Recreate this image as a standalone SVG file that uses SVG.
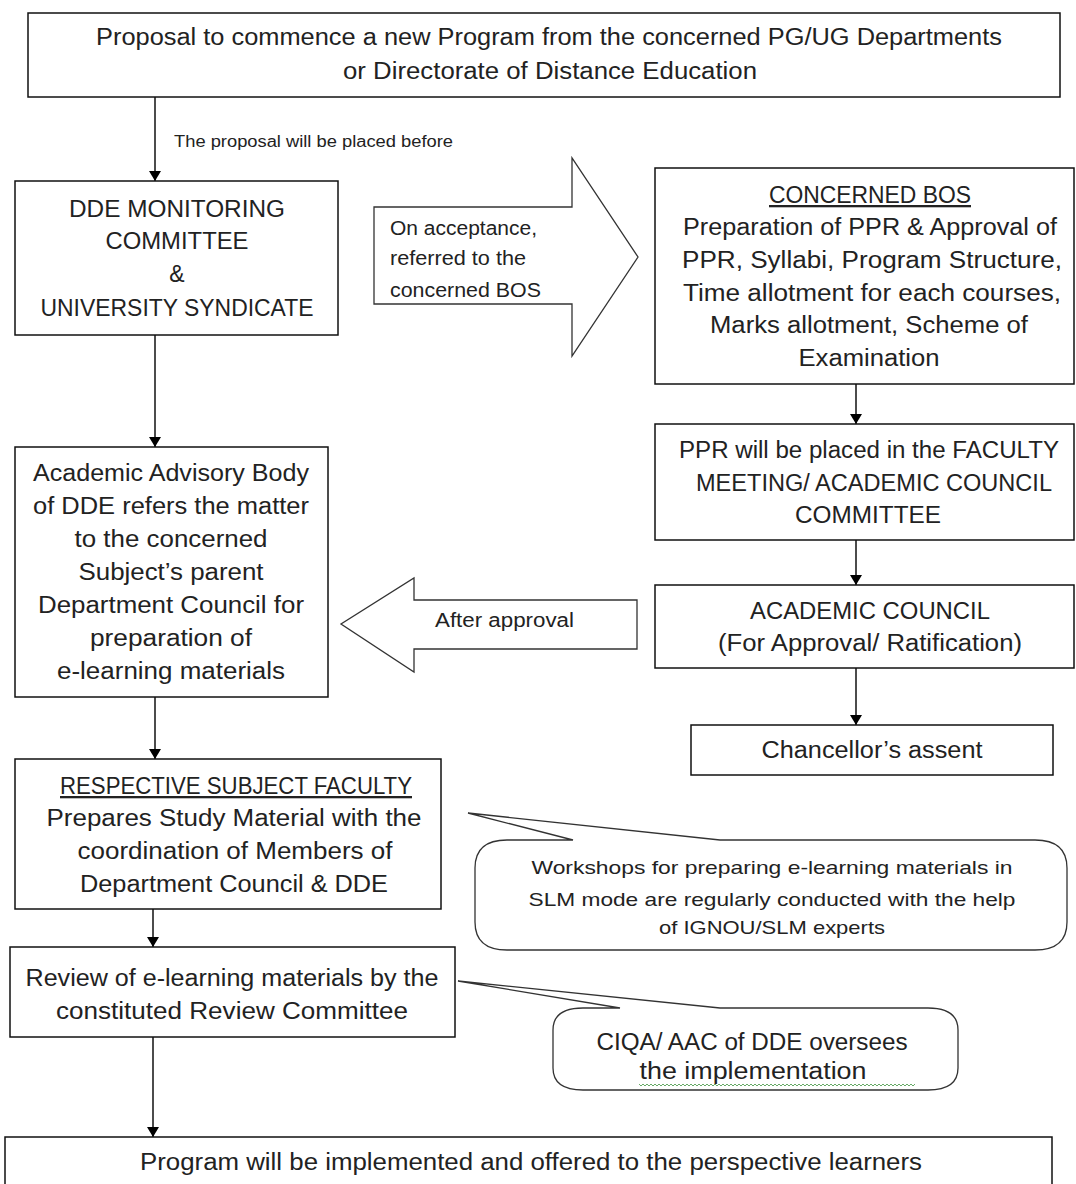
<svg xmlns="http://www.w3.org/2000/svg" width="1076" height="1184" viewBox="0 0 1076 1184">
<defs>
<marker id="ah" viewBox="0 0 10 12" refX="10" refY="6" markerWidth="10" markerHeight="12" markerUnits="userSpaceOnUse" orient="auto">
<path d="M0,0 L10,6 L0,12 Z" fill="#000"/>
</marker>
</defs>
<style>
.box{fill:#fff;stroke:#111;stroke-width:1.5}
.shape{fill:#fff;stroke:#333;stroke-width:1.3}
.t{font-family:"Liberation Sans",Arial,sans-serif;font-size:23px;fill:#222;text-anchor:middle}
.tl{font-family:"Liberation Sans",Arial,sans-serif;font-size:20px;fill:#222}
.ts{font-family:"Liberation Sans",Arial,sans-serif;font-size:16px;fill:#222}
.tc{font-family:"Liberation Sans",Arial,sans-serif;font-size:19px;fill:#222;text-anchor:middle}
.u{text-decoration:underline}
.c{fill:none;stroke:#111;stroke-width:1.5;marker-end:url(#ah)}
</style>
<rect width="1076" height="1184" fill="#fff"/>

<g id="connectors">
<line class="c" x1="155" y1="97" x2="155" y2="181"/>
<line class="c" x1="155" y1="335" x2="155" y2="447"/>
<line class="c" x1="856" y1="384" x2="856" y2="424"/>
<line class="c" x1="856" y1="540" x2="856" y2="585"/>
<line class="c" x1="856" y1="668" x2="856" y2="725"/>
<line class="c" x1="155" y1="697" x2="155" y2="759"/>
<line class="c" x1="153" y1="909" x2="153" y2="947"/>
<line class="c" x1="153" y1="1037" x2="153" y2="1137"/>
<text class="ts" x="174" y="147" textLength="279" lengthAdjust="spacingAndGlyphs">The proposal will be placed before</text>
</g>

<g id="n-proposal">
<rect class="box" x="28" y="13" width="1032" height="84"/>
<text class="t" x="549" y="45" textLength="906" lengthAdjust="spacingAndGlyphs">Proposal to commence a new Program from the concerned PG/UG Departments</text>
<text class="t" x="550" y="79" textLength="414" lengthAdjust="spacingAndGlyphs">or Directorate of Distance Education</text>
</g>

<g id="n-dde">
<rect class="box" x="15" y="181" width="323" height="154"/>
<text class="t" x="177" y="217" textLength="216" lengthAdjust="spacingAndGlyphs">DDE MONITORING</text>
<text class="t" x="177" y="249" textLength="143" lengthAdjust="spacingAndGlyphs">COMMITTEE</text>
<text class="t" x="177" y="282">&amp;</text>
<text class="t" x="177" y="316" textLength="273" lengthAdjust="spacingAndGlyphs">UNIVERSITY SYNDICATE</text>
</g>

<g id="n-accept-arrow">
<path class="shape" d="M374,207 L572,207 L572,158 L638,257 L572,356 L572,304 L374,304 Z"/>
<text class="tl" x="390" y="235" textLength="147" lengthAdjust="spacingAndGlyphs">On acceptance,</text>
<text class="tl" x="390" y="265" textLength="136" lengthAdjust="spacingAndGlyphs">referred to the</text>
<text class="tl" x="390" y="297" textLength="151" lengthAdjust="spacingAndGlyphs">concerned  BOS</text>
</g>

<g id="n-bos">
<rect class="box" x="655" y="168" width="419" height="216"/>
<text class="t u" x="870" y="203" textLength="202" lengthAdjust="spacingAndGlyphs">CONCERNED BOS</text>
<text class="t" x="870" y="235" textLength="374" lengthAdjust="spacingAndGlyphs">Preparation of PPR &amp; Approval of</text>
<text class="t" x="872" y="268" textLength="380" lengthAdjust="spacingAndGlyphs">PPR, Syllabi, Program Structure,</text>
<text class="t" x="872" y="301" textLength="378" lengthAdjust="spacingAndGlyphs">Time allotment for each courses,</text>
<text class="t" x="869" y="333" textLength="318" lengthAdjust="spacingAndGlyphs">Marks allotment, Scheme of</text>
<text class="t" x="869" y="366" textLength="141" lengthAdjust="spacingAndGlyphs">Examination</text>
</g>

<g id="n-ppr">
<rect class="box" x="655" y="424" width="419" height="116"/>
<text class="t" x="869" y="458" textLength="380" lengthAdjust="spacingAndGlyphs">PPR will be placed in the FACULTY</text>
<text class="t" x="874" y="491" textLength="356" lengthAdjust="spacingAndGlyphs">MEETING/ ACADEMIC COUNCIL</text>
<text class="t" x="868" y="523" textLength="146" lengthAdjust="spacingAndGlyphs">COMMITTEE</text>
</g>

<g id="n-ac">
<rect class="box" x="655" y="585" width="419" height="83"/>
<text class="t" x="870" y="619" textLength="240" lengthAdjust="spacingAndGlyphs">ACADEMIC COUNCIL</text>
<text class="t" x="870" y="651" textLength="304" lengthAdjust="spacingAndGlyphs">(For Approval/ Ratification)</text>
</g>

<g id="n-chancellor">
<rect class="box" x="691" y="725" width="362" height="50"/>
<text class="t" x="872" y="758" textLength="221" lengthAdjust="spacingAndGlyphs">Chancellor’s assent</text>
</g>

<g id="n-advisory">
<rect class="box" x="15" y="447" width="313" height="250"/>
<text class="t" x="171" y="481" textLength="276" lengthAdjust="spacingAndGlyphs">Academic Advisory Body</text>
<text class="t" x="171" y="514" textLength="276" lengthAdjust="spacingAndGlyphs">of DDE refers the matter</text>
<text class="t" x="171" y="547" textLength="193" lengthAdjust="spacingAndGlyphs">to the concerned</text>
<text class="t" x="171" y="580" textLength="185" lengthAdjust="spacingAndGlyphs">Subject’s parent</text>
<text class="t" x="171" y="613" textLength="266" lengthAdjust="spacingAndGlyphs">Department Council for</text>
<text class="t" x="171" y="646" textLength="162" lengthAdjust="spacingAndGlyphs">preparation of</text>
<text class="t" x="171" y="679" textLength="228" lengthAdjust="spacingAndGlyphs">e-learning materials</text>
</g>

<g id="n-after-arrow">
<path class="shape" d="M637,600 L414,600 L414,578 L341,624 L414,672 L414,649 L637,649 Z"/>
<text class="tl" x="435" y="627" textLength="139" lengthAdjust="spacingAndGlyphs">After approval</text>
</g>

<g id="n-faculty">
<rect class="box" x="15" y="759" width="426" height="150"/>
<text class="t u" x="236" y="794" textLength="352" lengthAdjust="spacingAndGlyphs">RESPECTIVE SUBJECT FACULTY</text>
<text class="t" x="234" y="826" textLength="375" lengthAdjust="spacingAndGlyphs">Prepares Study Material with the</text>
<text class="t" x="235" y="859" textLength="315" lengthAdjust="spacingAndGlyphs">coordination of Members of</text>
<text class="t" x="234" y="892" textLength="308" lengthAdjust="spacingAndGlyphs">Department Council &amp; DDE</text>
</g>

<g id="n-workshops">
<path class="shape" d="M573,840 L468,813 L720,840 L1035,840 Q1067,840 1067,868 L1067,922 Q1067,950 1035,950 L507,950 Q475,950 475,922 L475,868 Q475,840 507,840 Z"/>
<text class="tc" x="772" y="874" textLength="481" lengthAdjust="spacingAndGlyphs">Workshops for preparing  e-learning materials in</text>
<text class="tc" x="772" y="906" textLength="487" lengthAdjust="spacingAndGlyphs">SLM mode are regularly conducted  with the help</text>
<text class="tc" x="772" y="934" textLength="226" lengthAdjust="spacingAndGlyphs">of IGNOU/SLM experts</text>
</g>

<g id="n-review">
<rect class="box" x="10" y="947" width="445" height="90"/>
<text class="t" x="232" y="986" textLength="413" lengthAdjust="spacingAndGlyphs">Review of e-learning materials by the</text>
<text class="t" x="232" y="1019" textLength="352" lengthAdjust="spacingAndGlyphs">constituted Review Committee</text>
</g>

<g id="n-ciqa">
<path class="shape" d="M620,1008 L458,981 L720,1008 L928,1008 Q958,1008 958,1030 L958,1068 Q958,1090 928,1090 L583,1090 Q553,1090 553,1068 L553,1030 Q553,1008 583,1008 Z"/>
<text class="t" x="752" y="1050" textLength="311" lengthAdjust="spacingAndGlyphs">CIQA/ AAC of DDE oversees</text>
<text class="t" x="753" y="1079" textLength="227" lengthAdjust="spacingAndGlyphs">the  implementation</text>
<path d="M639,1084 l2,2 l2,-2 l2,2 l2,-2 l2,2 l2,-2 l2,2 l2,-2 l2,2 l2,-2 l2,2 l2,-2 l2,2 l2,-2 l2,2 l2,-2 l2,2 l2,-2 l2,2 l2,-2 l2,2 l2,-2 l2,2 l2,-2 l2,2 l2,-2 l2,2 l2,-2 l2,2 l2,-2 l2,2 l2,-2 l2,2 l2,-2 l2,2 l2,-2 l2,2 l2,-2 l2,2 l2,-2 l2,2 l2,-2 l2,2 l2,-2 l2,2 l2,-2 l2,2 l2,-2 l2,2 l2,-2 l2,2 l2,-2 l2,2 l2,-2 l2,2 l2,-2 l2,2 l2,-2 l2,2 l2,-2 l2,2 l2,-2 l2,2 l2,-2 l2,2 l2,-2 l2,2 l2,-2 l2,2 l2,-2 l2,2 l2,-2 l2,2 l2,-2 l2,2 l2,-2 l2,2 l2,-2 l2,2 l2,-2 l2,2 l2,-2 l2,2 l2,-2 l2,2 l2,-2 l2,2 l2,-2 l2,2 l2,-2 l2,2 l2,-2 l2,2 l2,-2 l2,2 l2,-2 l2,2 l2,-2 l2,2 l2,-2 l2,2 l2,-2 l2,2 l2,-2 l2,2 l2,-2 l2,2 l2,-2 l2,2 l2,-2 l2,2 l2,-2 l2,2 l2,-2 l2,2 l2,-2 l2,2 l2,-2 l2,2 l2,-2 l2,2 l2,-2 l2,2 l2,-2 l2,2 l2,-2 l2,2 l2,-2 l2,2 l2,-2 l2,2 l2,-2 l2,2 l2,-2 l2,2 l2,-2 l2,2 l2,-2" fill="none" stroke="#6a6" stroke-width="1"/>
</g>

<g id="n-implemented">
<rect class="box" x="5" y="1137" width="1047" height="60"/>
<text class="t" x="531" y="1170" textLength="782" lengthAdjust="spacingAndGlyphs">Program will be implemented and offered to the perspective learners</text>
</g>
</svg>
